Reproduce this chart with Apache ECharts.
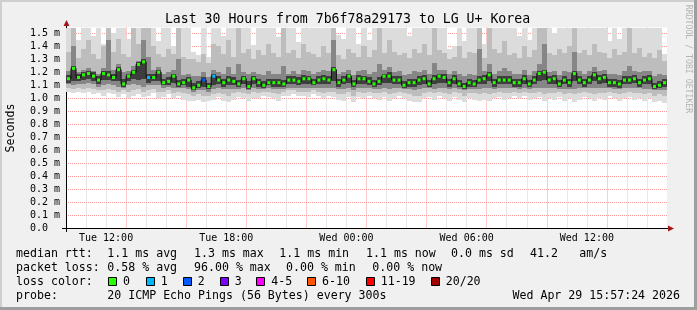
<!DOCTYPE html>
<html><head><meta charset="utf-8">
<script src="https://cdn.jsdelivr.net/npm/echarts@6/dist/echarts.min.js"></script>
<style>html,body{margin:0;padding:0;background:#f0f0f0}#c{width:697px;height:310px}</style>
</head><body><div id="c"></div>
<script>
// time axis: hours since Tue 00:00; one column = 15 minutes
const startHour = 10;
const stepHours = 0.25;

const median = [
1.15,1.23,1.16,1.18,1.19,1.17,1.14,1.19,1.18,1.16,
1.22,1.11,1.17,1.20,1.26,1.28,1.16,1.16,1.20,1.12,
1.13,1.17,1.11,1.12,1.14,1.08,1.10,1.14,1.09,1.17,
1.14,1.12,1.14,1.13,1.11,1.15,1.09,1.15,1.12,1.10,
1.12,1.12,1.12,1.11,1.14,1.14,1.13,1.15,1.15,1.12,
1.14,1.15,1.14,1.22,1.12,1.14,1.17,1.11,1.15,1.15,
1.13,1.11,1.13,1.17,1.17,1.14,1.14,1.10,1.12,1.12,
1.14,1.15,1.11,1.15,1.17,1.16,1.12,1.15,1.11,1.09,
1.12,1.11,1.14,1.15,1.18,1.12,1.14,1.14,1.14,1.12,
1.12,1.15,1.11,1.14,1.19,1.20,1.14,1.15,1.11,1.14,
1.12,1.19,1.14,1.12,1.14,1.18,1.15,1.16,1.12,1.12,
1.11,1.14,1.14,1.15,1.12,1.14,1.15,1.09,1.10,1.12];

// lightest smoke band
const smoke1Lo = [
1.05,1.04,1.05,1.04,1.05,1.03,1.04,1.02,1.04,1.03,
1.01,1.03,1.00,1.02,1.03,1.01,1.02,1.04,1.00,1.01,
1.03,1.00,1.02,0.99,0.98,0.98,0.99,0.97,0.98,0.99,
1.01,0.98,0.97,0.99,1.01,1.00,0.98,1.00,1.00,1.02,
1.01,1.00,0.98,1.02,1.02,1.03,1.02,1.02,1.01,1.03,
1.02,1.00,1.02,1.01,0.99,0.98,1.01,0.97,1.01,1.00,
1.02,1.00,0.99,1.01,0.98,1.00,1.02,1.00,0.98,0.97,
0.97,1.00,1.01,0.99,1.02,1.00,0.98,1.01,0.99,0.97,
1.00,0.99,0.98,0.99,0.98,1.00,1.01,0.99,1.00,1.02,
1.00,1.02,0.99,1.00,1.01,0.98,1.00,0.99,1.01,0.98,
1.00,0.97,0.99,1.01,1.00,0.98,1.00,0.99,1.02,1.00,
0.98,1.00,1.01,0.99,1.00,0.98,1.00,0.97,0.98,0.96];
const smoke1Hi = [
1.54,1.54,1.45,1.54,1.54,1.48,1.54,1.42,1.54,1.50,
1.54,1.54,1.46,1.54,1.54,1.54,1.54,1.54,1.44,1.54,
1.54,1.40,1.54,1.54,1.54,1.36,1.33,1.54,1.32,1.54,
1.54,1.48,1.54,1.54,1.54,1.54,1.54,1.41,1.54,1.54,
1.54,1.54,1.47,1.54,1.54,1.54,1.43,1.54,1.54,1.54,
1.54,1.54,1.54,1.54,1.49,1.46,1.54,1.54,1.42,1.54,
1.45,1.54,1.54,1.54,1.54,1.54,1.54,1.54,1.48,1.54,
1.54,1.54,1.54,1.54,1.54,1.54,1.38,1.40,1.54,1.44,
1.54,1.54,1.54,1.42,1.54,1.54,1.54,1.54,1.54,1.54,
1.48,1.54,1.45,1.54,1.54,1.54,1.54,1.50,1.54,1.54,
1.54,1.54,1.54,1.54,1.54,1.54,1.54,1.54,1.44,1.54,
1.46,1.54,1.54,1.54,1.54,1.54,1.54,1.54,1.54,1.34];

// medium smoke band
const smoke2Lo = [
1.08,1.07,1.08,1.07,1.08,1.07,1.06,1.06,1.07,1.06,
1.05,1.06,1.05,1.06,1.07,1.05,1.06,1.07,1.05,1.05,
1.06,1.04,1.05,1.04,1.03,1.02,1.03,1.02,1.02,1.03,
1.04,1.03,1.02,1.04,1.05,1.04,1.03,1.05,1.04,1.05,
1.05,1.04,1.03,1.05,1.06,1.06,1.05,1.05,1.05,1.06,
1.05,1.04,1.05,1.05,1.03,1.03,1.05,1.02,1.05,1.04,
1.05,1.04,1.04,1.05,1.03,1.04,1.05,1.04,1.03,1.02,
1.02,1.04,1.05,1.04,1.05,1.04,1.03,1.05,1.04,1.02,
1.04,1.04,1.03,1.04,1.03,1.04,1.05,1.04,1.04,1.05,
1.04,1.05,1.04,1.04,1.05,1.03,1.04,1.04,1.05,1.03,
1.04,1.03,1.04,1.05,1.04,1.03,1.04,1.04,1.05,1.04,
1.03,1.04,1.05,1.04,1.04,1.03,1.04,1.02,1.03,1.02];
const smoke2Hi = [
1.36,1.54,1.31,1.38,1.45,1.34,1.30,1.40,1.54,1.36,
1.46,1.34,1.32,1.54,1.42,1.54,1.54,1.40,1.34,1.32,
1.38,1.34,1.54,1.32,1.30,1.30,1.28,1.34,1.27,1.42,
1.40,1.34,1.45,1.32,1.54,1.35,1.38,1.30,1.37,1.33,
1.42,1.35,1.32,1.54,1.35,1.37,1.31,1.42,1.36,1.34,
1.32,1.40,1.35,1.54,1.33,1.30,1.38,1.35,1.32,1.40,
1.32,1.37,1.54,1.35,1.45,1.36,1.33,1.35,1.31,1.38,
1.35,1.42,1.33,1.54,1.37,1.35,1.30,1.32,1.40,1.31,
1.36,1.35,1.54,1.31,1.54,1.38,1.35,1.44,1.33,1.35,
1.31,1.40,1.32,1.37,1.54,1.54,1.35,1.33,1.38,1.35,
1.40,1.54,1.35,1.37,1.33,1.42,1.36,1.35,1.31,1.38,
1.33,1.36,1.54,1.35,1.39,1.32,1.35,1.31,1.37,1.29];

// dark smoke band
const smoke3Lo = [
1.11,1.10,1.11,1.11,1.12,1.11,1.09,1.10,1.11,1.10,
1.09,1.08,1.10,1.11,1.10,1.09,1.10,1.10,1.10,1.08,
1.09,1.08,1.08,1.08,1.07,1.05,1.06,1.06,1.05,1.07,
1.08,1.07,1.07,1.07,1.07,1.08,1.06,1.08,1.07,1.07,
1.08,1.07,1.07,1.07,1.08,1.08,1.08,1.08,1.08,1.08,
1.08,1.08,1.08,1.08,1.07,1.07,1.08,1.06,1.08,1.08,
1.08,1.07,1.07,1.08,1.07,1.08,1.08,1.07,1.07,1.06,
1.07,1.08,1.08,1.07,1.08,1.08,1.07,1.08,1.07,1.06,
1.07,1.07,1.07,1.08,1.08,1.07,1.08,1.08,1.08,1.08,
1.07,1.08,1.07,1.08,1.08,1.08,1.08,1.08,1.07,1.07,
1.07,1.07,1.08,1.08,1.08,1.08,1.08,1.08,1.08,1.07,
1.07,1.08,1.08,1.08,1.08,1.07,1.07,1.06,1.06,1.06];
const smoke3Hi = [
1.21,1.40,1.20,1.22,1.23,1.21,1.19,1.23,1.45,1.22,
1.26,1.20,1.21,1.25,1.29,1.45,1.32,1.22,1.24,1.19,
1.20,1.22,1.30,1.18,1.19,1.17,1.17,1.20,1.16,1.22,
1.20,1.19,1.24,1.19,1.26,1.20,1.19,1.20,1.19,1.18,
1.21,1.19,1.19,1.25,1.19,1.21,1.19,1.22,1.21,1.19,
1.20,1.22,1.21,1.45,1.19,1.20,1.22,1.18,1.21,1.22,
1.19,1.20,1.26,1.22,1.24,1.20,1.21,1.18,1.19,1.21,
1.20,1.22,1.19,1.27,1.22,1.22,1.19,1.21,1.19,1.17,
1.19,1.18,1.38,1.21,1.26,1.19,1.21,1.23,1.21,1.19,
1.19,1.22,1.18,1.21,1.26,1.42,1.20,1.21,1.18,1.21,
1.20,1.36,1.21,1.19,1.21,1.24,1.21,1.22,1.19,1.19,
1.18,1.21,1.25,1.21,1.20,1.21,1.21,1.17,1.19,1.18];

// darkest band around the median
const smoke4Lo = [
1.12,1.13,1.13,1.14,1.15,1.13,1.11,1.14,1.14,1.13,
1.13,1.09,1.13,1.15,1.14,1.15,1.12,1.13,1.13,1.10,
1.10,1.12,1.09,1.10,1.09,1.06,1.08,1.09,1.07,1.10,
1.11,1.09,1.10,1.10,1.09,1.11,1.07,1.11,1.09,1.08,
1.10,1.09,1.09,1.09,1.11,1.11,1.10,1.11,1.11,1.10,
1.11,1.11,1.11,1.13,1.09,1.11,1.12,1.09,1.11,1.11,
1.10,1.09,1.10,1.12,1.12,1.11,1.11,1.08,1.09,1.09,
1.10,1.11,1.09,1.11,1.12,1.12,1.09,1.11,1.09,1.07,
1.09,1.09,1.11,1.11,1.13,1.09,1.11,1.11,1.11,1.09,
1.09,1.11,1.09,1.11,1.13,1.14,1.11,1.11,1.09,1.11,
1.09,1.13,1.11,1.09,1.11,1.13,1.11,1.12,1.09,1.09,
1.08,1.11,1.11,1.12,1.09,1.11,1.11,1.07,1.08,1.09];
const smoke4Hi = [
1.18,1.25,1.19,1.20,1.21,1.20,1.17,1.21,1.21,1.19,
1.24,1.15,1.19,1.22,1.28,1.30,1.19,1.19,1.22,1.15,
1.16,1.19,1.14,1.15,1.16,1.12,1.13,1.16,1.12,1.19,
1.17,1.15,1.17,1.16,1.14,1.17,1.13,1.17,1.15,1.13,
1.15,1.15,1.15,1.14,1.17,1.17,1.16,1.18,1.17,1.15,
1.17,1.18,1.17,1.24,1.15,1.17,1.19,1.14,1.18,1.17,
1.16,1.14,1.16,1.19,1.20,1.17,1.17,1.13,1.15,1.15,
1.17,1.18,1.14,1.18,1.19,1.19,1.15,1.18,1.14,1.12,
1.15,1.14,1.17,1.18,1.20,1.15,1.17,1.17,1.17,1.15,
1.15,1.18,1.14,1.17,1.21,1.22,1.17,1.18,1.14,1.17,
1.15,1.21,1.17,1.15,1.17,1.20,1.18,1.19,1.15,1.15,
1.14,1.17,1.17,1.18,1.15,1.17,1.18,1.12,1.13,1.15];

// columns with packet loss and their loss-colour index
const lossCols = [16, 27, 29];
const lossLevels = [1, 2, 1];

const lossColors = ['#26ff00','#00b8ff','#0059ff','#7e00ff','#ff00ff','#ff5500','#ff0000','#a10000'];
const lossLabels = ['0','1','2','3','4-5','6-10','11-19','20/20'];

const xTickHours = [12, 18, 24, 30, 36];
const xTickLabels = ['Tue 12:00','Tue 18:00','Wed 00:00','Wed 06:00','Wed 12:00'];

const yTickValues = [0,0.1,0.2,0.3,0.4,0.5,0.6,0.7,0.8,0.9,1.0,1.1,1.2,1.3,1.4,1.5];

const smokeColors = ['#dcdcdc','#bdbdbd','#868686','#3e3e3e'];
const MONO = "'DejaVu Sans Mono', monospace";

// ---- build series data ----
const smokeData = median.map((m, i) => [
  startHour + i * stepHours,
  smoke1Lo[i], smoke1Hi[i], smoke2Lo[i], smoke2Hi[i],
  smoke3Lo[i], smoke3Hi[i], smoke4Lo[i], smoke4Hi[i]
]);
const medianData = median.map((m, i) => {
  const k = lossCols.indexOf(i);
  const lvl = k >= 0 ? lossLevels[k] : 0;
  return { value: [startHour + (i + 0.5) * stepHours, m], itemStyle: { color: lossColors[lvl], borderWidth: 0 } };
});

const chart = echarts.init(document.getElementById('c'), null, { renderer: 'canvas' });

const texts = [];
function txt(s, x, y) {
  texts.push({
    type: 'text', x: x, y: y, silent: true,
    style: { text: s, fill: '#000', fontFamily: MONO, fontSize: 11.6,
             align: 'left', verticalAlign: 'middle', textAlign: 'left', textVerticalAlign: 'middle' }
  });
}
// Title
texts.push({ type: 'text', x: 347.5, y: 19.5, silent: true,
  style: { text: 'Last 30 Hours from 7b6f78a29173 to LG U+ Korea', fill: '#000', fontFamily: MONO, fontSize: 13.2,
           align: 'center', verticalAlign: 'middle', textAlign: 'center', textVerticalAlign: 'middle' } });
// Y title
texts.push({ type: 'text', x: 11, y: 128, rotation: Math.PI / 2, silent: true,
  style: { text: 'Seconds', fill: '#000', fontFamily: MONO, fontSize: 11.6,
           align: 'center', verticalAlign: 'middle', textAlign: 'center', textVerticalAlign: 'middle' } });
// watermark
texts.push({ type: 'text', x: 688, y: 59, rotation: -Math.PI / 2, silent: true,
  style: { text: 'RRDTOOL / TOBI OETIKER', fill: '#b4b4b4', fontFamily: MONO, fontSize: 8.2,
           align: 'center', verticalAlign: 'middle', textAlign: 'center', textVerticalAlign: 'middle' } });

// legend lines
const L1 = 254.3, L2 = 268.3, L3 = 281.7, L4 = 296;
txt('median rtt:', 16, L1);
txt('1.1 ms avg', 107.3, L1);
txt('1.3 ms max', 194, L1);
txt('1.1 ms min', 279.3, L1);
txt('1.1 ms now', 366, L1);
txt('0.0 ms sd', 451, L1);
txt('41.2', 530, L1);
txt('am/s', 579.3, L1);
txt('packet loss:', 16, L2);
txt('0.58 % avg', 107.3, L2);
txt('96.00 % max', 194, L2);
txt('0.00 % min', 286, L2);
txt('0.00 % now', 372.3, L2);
txt('loss color:', 16, L3);
const boxX = [108, 145.7, 182.7, 219.7, 256.3, 307, 365.7, 430.7];
lossLabels.forEach((lab, k) => {
  texts.push({ type: 'rect', silent: true, shape: { x: Math.round(boxX[k]) + 0.5, y: 277.5, width: 8, height: 8 },
               style: { fill: lossColors[k], stroke: '#000', lineWidth: 1 } });
  txt(lab, boxX[k] + 15, L3);
});
txt('probe:', 16, L4);
txt('20 ICMP Echo Pings (56 Bytes) every 300s', 107.3, L4);
texts.push({ type: 'text', x: 680, y: L4, silent: true,
  style: { text: 'Wed Apr 29 15:57:24 2026', fill: '#000', fontFamily: MONO, fontSize: 11.6,
           align: 'right', verticalAlign: 'middle', textAlign: 'right', textVerticalAlign: 'middle' } });

// frame shading and axis arrows
const deco = [
  { type: 'rect', silent: true, shape: { x: 0, y: 0, width: 697, height: 2 }, style: { fill: '#cfcfcf' } },
  { type: 'rect', silent: true, shape: { x: 0, y: 0, width: 2, height: 310 }, style: { fill: '#cfcfcf' } },
  { type: 'rect', silent: true, shape: { x: 0, y: 307, width: 697, height: 3 }, style: { fill: '#9e9e9e' } },
  { type: 'rect', silent: true, shape: { x: 694, y: 0, width: 3, height: 310 }, style: { fill: '#9e9e9e' } },
  { type: 'line', silent: true, shape: { x1: 66.5, y1: 28, x2: 66.5, y2: 24 }, style: { stroke: '#000', lineWidth: 1 } },
  { type: 'line', silent: true, shape: { x1: 62, y1: 228.5, x2: 669, y2: 228.5 }, style: { stroke: '#000', lineWidth: 1 } },
  { type: 'line', silent: true, shape: { x1: 66.5, y1: 228, x2: 66.5, y2: 232 }, style: { stroke: '#000', lineWidth: 1 } },
  { type: 'polygon', silent: true, shape: { points: [[63.5, 26], [69.5, 26], [66.5, 20]] }, style: { fill: '#a01818' } },
  { type: 'polygon', silent: true, shape: { points: [[668, 225.5], [668, 231.5], [674, 228.5]] }, style: { fill: '#a01818' } }
];

const option = {
  animation: false,
  backgroundColor: '#f0f0f0',
  grid: { left: 66, right: 30, top: 27.5, bottom: 82, show: true, backgroundColor: '#ffffff', borderWidth: 0,
          containLabel: false, outerBoundsMode: 'none' },
  xAxis: {
    type: 'value', min: 10, max: 40, interval: 1,
    axisLine: { show: true, onZero: false, lineStyle: { color: '#000', width: 1 } },
    axisTick: { show: false },
    axisLabel: {
      show: true, margin: 5, color: '#000', fontFamily: MONO, fontSize: 10,
      formatter: v => { const k = xTickHours.indexOf(Math.round(v)); return (k >= 0 && Math.abs(v - Math.round(v)) < 1e-6) ? xTickLabels[k] : ''; }
    },
    splitLine: { show: true, showMinLine: false, showMaxLine: false,
      lineStyle: { type: 'dotted', width: 1, color: ['#d2d2d2', '#d2d2d2', '#ff9a9a'] } }
  },
  yAxis: {
    type: 'value', min: 0, max: 1.545, interval: 0.1,
    axisLine: { show: true, onZero: false, lineStyle: { color: '#000', width: 1 } },
    axisTick: { show: false },
    axisLabel: {
      show: true, margin: 36, align: 'left', color: '#000', fontFamily: MONO, fontSize: 10,
      showMaxLabel: false,
      formatter: v => {
        const k = yTickValues.findIndex(t => Math.abs(t - v) < 1e-6);
        if (k < 0) return '';
        return k === 0 ? '0.0' : yTickValues[k].toFixed(1) + ' m';
      }
    },
    splitLine: { show: true, showMinLine: false, showMaxLine: false,
      lineStyle: { type: 'dotted', width: 1, color: '#ff9a9a' } }
  },
  series: [
    {
      type: 'custom', name: 'smoke', data: smokeData, z: 2,
      encode: { x: 0, y: [1, 2, 3, 4, 5, 6, 7, 8] },
      renderItem: function (params, api) {
        const t = api.value(0);
        const xa = Math.round(api.coord([t, 0])[0]);
        const xb = Math.round(api.coord([t + stepHours, 0])[0]);
        const children = [];
        for (let b = 0; b < 4; b++) {
          const lo = api.value(1 + 2 * b), hi = api.value(2 + 2 * b);
          const yHi = Math.round(api.coord([t, hi])[1]);
          const yLo = Math.round(api.coord([t, lo])[1]);
          children.push({ type: 'rect', shape: { x: xa, y: yHi, width: xb - xa, height: yLo - yHi },
                          style: { fill: smokeColors[b] } });
        }
        return { type: 'group', children: children };
      }
    },
    {
      type: 'line', name: 'median', data: medianData, z: 3,
      step: 'middle', showSymbol: true, symbol: 'rect', symbolSize: [3, 3],
      lineStyle: { color: '#111111', width: 1 },
      itemStyle: { borderWidth: 0 },
      emphasis: { disabled: true }
    }
  ],
  graphic: { elements: deco.concat(texts) }
};
chart.setOption(option);
</script></body></html>
